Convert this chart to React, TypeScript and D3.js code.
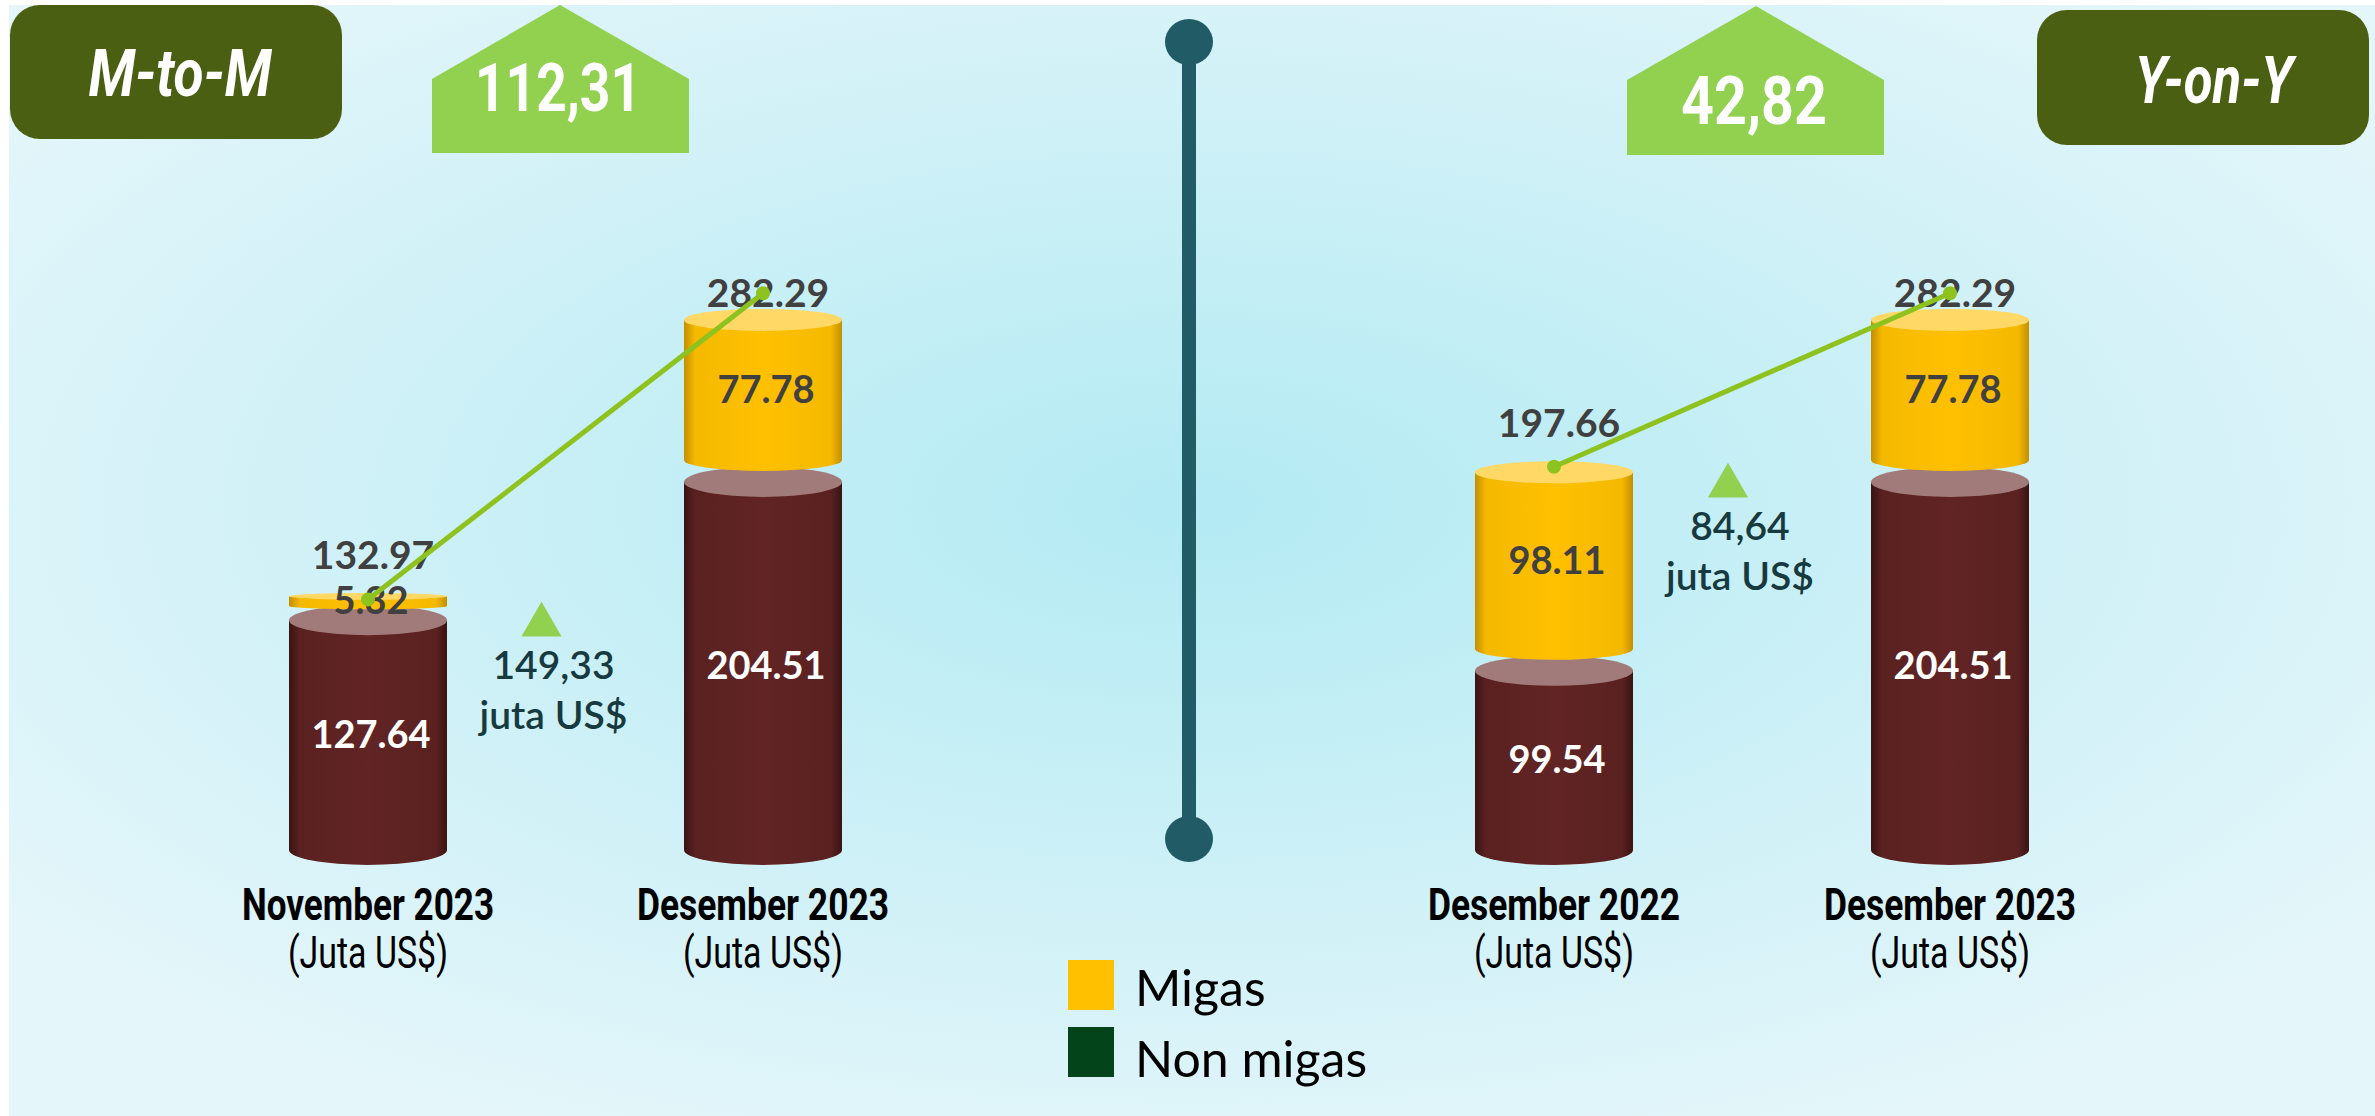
import React from 'react';
import * as d3 from 'd3';

const W = 2375;
const H = 1116;

// M-to-M panel
const mtmCategories = ['November 2023', 'Desember 2023'];
const mtmMigas = [5.32, 77.78];
const mtmNonMigas = [127.64, 204.51];
const mtmTotal = [132.97, 282.29];

// Y-on-Y panel
const yoyCategories = ['Desember 2022', 'Desember 2023'];
const yoyMigas = [98.11, 77.78];
const yoyNonMigas = [99.54, 204.51];
const yoyTotal = [197.66, 282.29];

const panelTitles = ['M-to-M', 'Y-on-Y'];
const growthPct = ['112,31', '42,82'];
const deltaValues = ['149,33', '84,64'];
const deltaUnit = 'juta US$';
const unitLabel = '(Juta US$)';
const legendLabels = ['Migas', 'Non migas'];
const legendColors = ['#ffc000', '#03441a'];

const NARROW = "'Liberation Sans Narrow', 'Arial Narrow', Roboto, sans-serif";
const BODY = "Lato, 'Open Sans', sans-serif";

// bar axis and the (secondary) total line axis
const yBar = d3.scaleLinear().domain([0, 300]).range([850, 310]);
const yLine = d3.scaleLinear().domain([0, 300]).range([872, 257]);
const HALF_W = 79;

const panels = [
  {
    title: panelTitles[0], cats: mtmCategories, migas: mtmMigas, non: mtmNonMigas, total: mtmTotal,
    xRange: [368, 763], growth: growthPct[0], delta: deltaValues[0],
    box: { x: 10, y: 5, w: 332, h: 134, tx: 180, ty: 96, tw: 183 },
    house: { x0: 432, x1: 689, peak: 560, top: 5, sh: 79, bot: 153, ty: 111, tw: 166 },
    deltaY: 602,
  },
  {
    title: panelTitles[1], cats: yoyCategories, migas: yoyMigas, non: yoyNonMigas, total: yoyTotal,
    xRange: [1554, 1950], growth: growthPct[1], delta: deltaValues[1],
    box: { x: 2037, y: 10, w: 332, h: 135, tx: 2214, ty: 103, tw: 158 },
    house: { x0: 1627, x1: 1884, peak: 1756, top: 6, sh: 80, bot: 155, ty: 124, tw: 146 },
    deltaY: 463,
  },
];

const ryFor = (kind: 'migas' | 'non', h: number) => Math.min(kind === 'non' ? 15 : 11, h * 0.35);

function Cylinder({ cx, y0, y1, kind }: { cx: number; y0: number; y1: number; kind: 'migas' | 'non' }) {
  const ry = ryFor(kind, y0 - y1);
  const hw = HALF_W;
  const side = `M${cx - hw},${y1} L${cx - hw},${y0} A${hw},${ry} 0 0 0 ${cx + hw},${y0} L${cx + hw},${y1} Z`;
  return (
    <g>
      <path d={side} fill={`url(#side-${kind})`} />
      <ellipse cx={cx} cy={y1} rx={hw} ry={ry} fill={kind === 'non' ? '#a17b79' : '#ffd865'} />
    </g>
  );
}

function Panel({ p }: { p: typeof panels[number] }) {
  const x = d3.scalePoint<string>().domain(p.cats).range(p.xRange as [number, number]);
  const pts: [number, number][] = p.cats.map((c, i) => [x(c)!, yLine(p.total[i])]);
  const line = d3.line()(pts) || '';
  const mid = (p.xRange[0] + p.xRange[1]) / 2;
  const tri = d3.symbol().type(d3.symbolTriangle).size(700)() || '';
  const h = p.house;
  const house = `M${h.x0},${h.bot} L${h.x0},${h.sh} L${h.peak},${h.top} L${h.x1},${h.sh} L${h.x1},${h.bot} Z`;

  return (
    <g>
      <rect x={p.box.x} y={p.box.y} width={p.box.w} height={p.box.h} rx={30} fill="#4b5f12" />
      <text x={p.box.tx} y={p.box.ty} textAnchor="middle" fill="#fff" fontFamily={NARROW}
        fontWeight="bold" fontStyle="italic" fontSize={66}
        textLength={p.box.tw} lengthAdjust="spacingAndGlyphs">{p.title}</text>
      <path d={house} fill="#92d050" />
      <text x={h.peak - 2} y={h.ty} textAnchor="middle" fill="#fff" fontFamily={NARROW}
        fontWeight="bold" fontSize={66} textLength={h.tw} lengthAdjust="spacingAndGlyphs">{p.growth}</text>

      {p.cats.map((c, i) => {
        const cx = x(c)!;
        const nTop = yBar(p.non[i]);
        const mH = yBar(0) - yBar(p.migas[i]);
        const gap = ryFor('non', yBar(0) - nTop) + ryFor('migas', mH) - 4;
        const mBot = nTop - gap;
        const mTop = mBot - mH;
        return (
          <g key={c}>
            <Cylinder cx={cx} y0={yBar(0)} y1={nTop} kind="non" />
            <Cylinder cx={cx} y0={mBot} y1={mTop} kind="migas" />
            <text x={cx + 3} y={(yBar(0) + nTop) / 2 + 13} textAnchor="middle" fill="#fff"
              fontFamily={BODY} fontWeight="bold" fontSize={38}>{p.non[i].toFixed(2)}</text>
            <text x={cx + 3} y={(mBot + mTop) / 2 + 13} textAnchor="middle" fill="#404040"
              fontFamily={BODY} fontWeight="bold" fontSize={38}>{p.migas[i].toFixed(2)}</text>
            <text x={cx + 5} y={Math.max(yLine(p.total[i]) - 30, 307)} textAnchor="middle" fill="#404040"
              fontFamily={BODY} fontWeight="bold" fontSize={39}>{p.total[i].toFixed(2)}</text>
            <text x={cx} y={920} textAnchor="middle" fill="#000" fontFamily={NARROW}
              fontWeight="bold" fontSize={44} textLength={c.length * 19.4}
              lengthAdjust="spacingAndGlyphs">{c}</text>
            <text x={cx} y={968} textAnchor="middle" fill="#000" fontFamily={NARROW}
              fontSize={44} textLength={160} lengthAdjust="spacingAndGlyphs">{unitLabel}</text>
          </g>
        );
      })}

      <path d={line} fill="none" stroke="#8dc21f" strokeWidth={5} />
      {pts.map((d, i) => <circle key={i} cx={d[0]} cy={d[1]} r={7} fill="#8dc21f" />)}

      <path d={tri} transform={`translate(${mid - 24},${p.deltaY + 23})`} fill="#92d050" />
      <text x={mid - 12} y={p.deltaY + 77} textAnchor="middle" fill="#173a40" fontFamily={BODY}
        fontWeight={600} fontSize={39}>{p.delta}</text>
      <text x={mid - 12} y={p.deltaY + 127} textAnchor="middle" fill="#173a40" fontFamily={BODY}
        fontWeight={600} fontSize={39}>{deltaUnit}</text>
    </g>
  );
}

export default function App() {
  return (
    <svg width={W} height={H} style={{ position: 'absolute', left: 0, top: 0 }}>
      <defs>
        <radialGradient id="bg" cx="50%" cy="45%" r="62%">
          <stop offset="0%" stopColor="#b3eaf3" />
          <stop offset="100%" stopColor="#e4f6fa" />
        </radialGradient>
        <linearGradient id="side-migas" x1="0" x2="1" y1="0" y2="0">
          <stop offset="0%" stopColor="#c28f00" />
          <stop offset="7%" stopColor="#f4b900" />
          <stop offset="50%" stopColor="#ffc000" />
          <stop offset="93%" stopColor="#f4b900" />
          <stop offset="100%" stopColor="#c28f00" />
        </linearGradient>
        <linearGradient id="side-non" x1="0" x2="1" y1="0" y2="0">
          <stop offset="0%" stopColor="#3a1313" />
          <stop offset="7%" stopColor="#5a2121" />
          <stop offset="50%" stopColor="#622424" />
          <stop offset="93%" stopColor="#5a2121" />
          <stop offset="100%" stopColor="#3a1313" />
        </linearGradient>
      </defs>
      <rect x={0} y={0} width={W} height={H} fill="#fff" />
      <rect x={9} y={5} width={W - 9} height={H - 5} fill="url(#bg)" />

      {/* separator */}
      <line x1={1189} x2={1189} y1={42} y2={839} stroke="#215c66" strokeWidth={14} />
      <ellipse cx={1189} cy={42} rx={24} ry={23} fill="#215c66" />
      <ellipse cx={1189} cy={839} rx={24} ry={23} fill="#215c66" />

      {panels.map((p) => <Panel key={p.title} p={p} />)}

      {legendLabels.map((l, i) => (
        <g key={l}>
          <rect x={1068} y={960 + i * 67} width={46} height={50} fill={legendColors[i]} />
          <text x={1135} y={1006 + i * 71} fontFamily={BODY} fontSize={50} fill="#000">{l}</text>
        </g>
      ))}
    </svg>
  );
}
